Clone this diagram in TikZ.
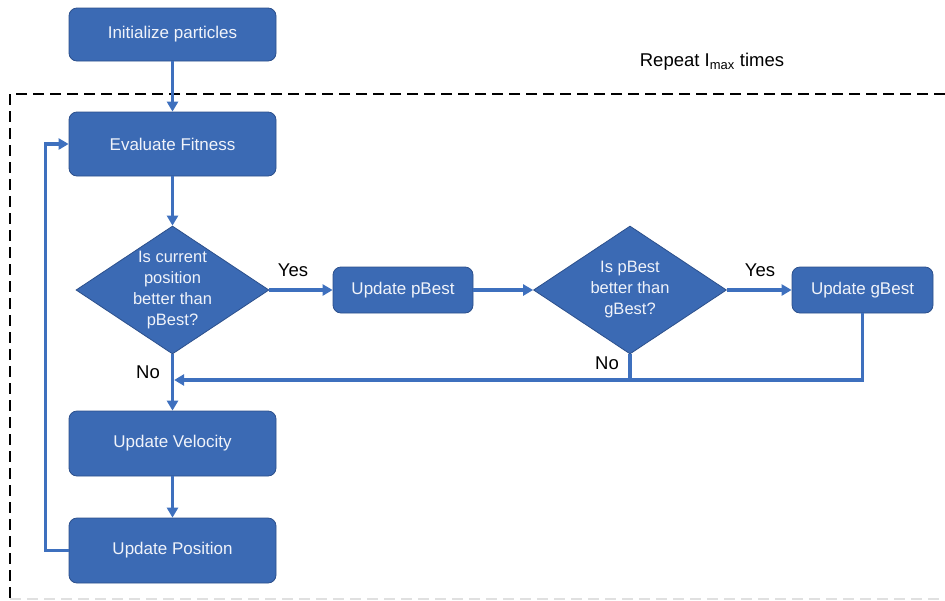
\documentclass[tikz,border=0pt]{standalone}
\usepackage{fontspec}
\setmainfont{Liberation Sans}
\usetikzlibrary{shapes.geometric,arrows.meta}
\definecolor{boxfill}{RGB}{59,106,180}
\definecolor{boxedge}{RGB}{44,80,140}
\definecolor{flow}{RGB}{62,112,190}
\definecolor{boxtext}{RGB}{240,243,250}
\tikzset{
  procbox/.style={draw=boxedge, line width=0.8pt, fill=boxfill, rounded corners=8pt,
    text=boxtext, font=\fontsize{17}{20}\selectfont, align=center, inner sep=0pt},
  decision/.style={diamond, draw=boxedge, line width=0.8pt, fill=boxfill,
    inner sep=0pt, minimum width=193pt, minimum height=128pt,
    label={[text=boxtext, font=\fontsize{16.5}{21}\selectfont, align=center, inner sep=0pt]center:#1}},
  flowline/.style={draw=flow, line width=3.2pt},
  flowarrow/.style={flowline, -{Triangle[length=10pt,width=11pt]}},
  lbl/.style={font=\fontsize{18.5}{22}\selectfont, text=black, inner sep=0pt},
  loopedge/.style={dashed, dash pattern=on 11pt off 6pt, line width=2pt}
}
\begin{document}
\begin{tikzpicture}[x=1pt,y=-1pt]
  \useasboundingbox (0,0) rectangle (945,600);

  % loop frame
  \draw[loopedge, black] (945,94) -- (10,94) -- (10,600);
  \draw[loopedge, black!12] (10,599) -- (945,599);
  \node[lbl, anchor=center] (reptext) at (712,62) {Repeat I\textsubscript{max} times};

  % process boxes
  \node[procbox, minimum width=207pt, minimum height=53pt] (init) at (172.5,34.5) {Initialize particles};
  \node[procbox, minimum width=207pt, minimum height=64pt] (eval) at (172.5,144) {Evaluate Fitness};
  \node[decision={Is current\\position\\better than\\pBest?}] (dcur) at (172.5,290) {};
  \node[procbox, minimum width=140pt, minimum height=46pt] (upb) at (403,290) {Update pBest};
  \node[decision={Is pBest\\better than\\gBest?}] (dgb) at (630,290) {};
  \node[procbox, minimum width=141pt, minimum height=46pt] (ugb) at (862.5,290) {Update gBest};
  \node[procbox, minimum width=207pt, minimum height=65pt] (uvel) at (172.5,443.5) {Update Velocity};
  \node[procbox, minimum width=207pt, minimum height=65pt] (upos) at (172.5,550.5) {Update Position};

  % connectors
  \draw[flowarrow] (init) -- (eval);
  \draw[flowarrow] (eval) -- (dcur);
  \draw[flowarrow] (dcur) -- (upb);
  \draw[flowarrow] (upb) -- (dgb);
  \draw[flowarrow] (dgb) -- (ugb);
  \draw[flowarrow] (dcur) -- (uvel);
  \draw[flowarrow] (uvel) -- (upos);
  \coordinate (merge) at (172.5,380);
  \draw[flowarrow] (ugb.south) |- ([xshift=1.6pt]merge);
  \draw[flowline] (dgb.south) -- (dgb.south |- merge);
  \draw[flowarrow] (upos.west) -- ++(-23,0) |- (eval.west);

  % branch labels
  \node[lbl] (yes1) at (293,270) {Yes};
  \node[lbl] (no1) at (148,372) {No};
  \node[lbl] (yes2) at (760,270) {Yes};
  \node[lbl] (no2) at (607,363) {No};
\end{tikzpicture}
\end{document}
